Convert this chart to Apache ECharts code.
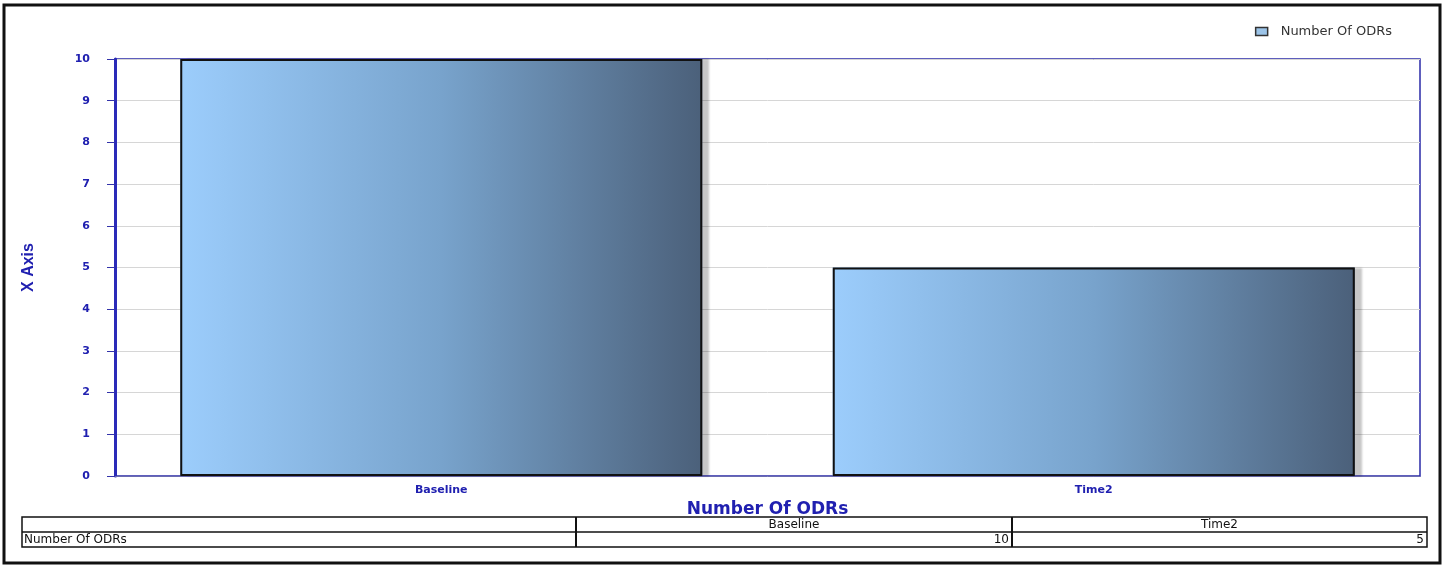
<!DOCTYPE html>
<html>
<head>
<meta charset="utf-8">
<title>Number Of ODRs</title>
<script src="https://cdn.jsdelivr.net/npm/echarts@6/dist/echarts.min.js"></script>
<style>
  html, body { margin: 0; padding: 0; background: #fff; }
  #chart { width: 1445px; height: 566px; }
</style>
</head>
<body>
<div id="chart"></div>
<script>
// 数据
const categories = ['Baseline', 'Time2']
const odrValues = [10, 5]
const seriesName = 'Number Of ODRs'
const yTicks = { min: 0, max: 10, interval: 1 }

const blue = '#2020b0'
const font = 'DejaVu Sans'

// 数据表 (图表下方)
const table = { left: 22, right: 1427, top: 517, rowH: 15, cols: [22, 576, 1012, 1427] }

function buildTable() {
  const els = []
  const bottom = table.top + table.rowH * 2
  els.push({ type: 'rect', shape: { x: table.left, y: table.top, width: table.right - table.left, height: bottom - table.top },
    style: { fill: '#fff', stroke: '#111', lineWidth: 1.5 } })
  els.push({ type: 'line', shape: { x1: table.left, y1: table.top + table.rowH, x2: table.right, y2: table.top + table.rowH },
    style: { stroke: '#111', lineWidth: 1.5 } })
  for (let i = 1; i < table.cols.length - 1; i++) {
    els.push({ type: 'line', shape: { x1: table.cols[i], y1: table.top, x2: table.cols[i], y2: bottom },
      style: { stroke: '#111', lineWidth: 2 } })
  }
  // 表头
  categories.forEach((c, i) => {
    els.push({ type: 'text', x: (table.cols[i + 1] + table.cols[i + 2]) / 2, y: table.top + table.rowH / 2,
      style: { text: c, fill: '#111', font: '12px ' + font, align: 'center', verticalAlign: 'middle' } })
  })
  // 数据行
  els.push({ type: 'text', x: table.left + 2, y: table.top + table.rowH * 1.5,
    style: { text: seriesName, fill: '#111', font: '12px ' + font, align: 'left', verticalAlign: 'middle' } })
  odrValues.forEach((v, i) => {
    els.push({ type: 'text', x: table.cols[i + 2] - 3, y: table.top + table.rowH * 1.5,
      style: { text: String(v), fill: '#111', font: '12px ' + font, align: 'right', verticalAlign: 'middle' } })
  })
  return els
}

const chart = echarts.init(document.getElementById('chart'))

const option = {
  backgroundColor: '#fff',
  animation: false,
  legend: {
    data: [{ name: seriesName, itemStyle: { color: '#9cc4e8', borderColor: '#333', borderWidth: 1.5 } }],
    right: 48,
    top: 20,
    itemWidth: 12,
    itemHeight: 8,
    itemGap: 10,
    icon: 'rect',
    textStyle: { color: '#333', fontSize: 13, fontFamily: font, padding: [0, 0, 0, 8] }
  },
  grid: {
    left: 115,
    right: 25,
    top: 59,
    bottom: 90,
    show: true,
    borderColor: '#2a2aa8',
    borderWidth: 1.5,
    backgroundColor: '#fff'
  },
  xAxis: {
    type: 'category',
    data: categories,
    name: seriesName,
    nameLocation: 'middle',
    nameGap: 23,
    nameTextStyle: { color: blue, fontSize: 17, fontWeight: 'bold', fontFamily: font },
    axisLine: { lineStyle: { color: '#6a6ab0', width: 1 } },
    axisTick: { alignWithLabel: true, length: 6, lineStyle: { color: '#4444aa' } },
    axisLabel: { color: blue, fontSize: 11, fontWeight: 'bold', fontFamily: font, margin: 9 },
    splitLine: { show: false }
  },
  yAxis: {
    type: 'value',
    min: yTicks.min,
    max: yTicks.max,
    interval: yTicks.interval,
    name: 'X Axis',
    nameLocation: 'middle',
    nameGap: 78,
    nameRotate: 90,
    nameTextStyle: { color: blue, fontSize: 16, fontWeight: 'bold', fontFamily: 'Liberation Sans' },
    axisLine: { show: true, lineStyle: { color: '#2a2ab8', width: 3 } },
    axisTick: { show: true, length: 8, lineStyle: { color: '#3333aa' } },
    axisLabel: { color: blue, fontSize: 11, fontWeight: 'bold', fontFamily: font, margin: 25 },
    splitLine: { lineStyle: { color: '#d6d6d6' } }
  },
  series: [
    {
      // 渐变填充 + 右侧阴影
      name: seriesName,
      type: 'bar',
      data: odrValues,
      barWidth: '80%',
      itemStyle: {
        color: new echarts.graphic.LinearGradient(0, 0, 1, 0, [
          { offset: 0, color: '#9ccdfc' },
          { offset: 0.5, color: '#78a3cc' },
          { offset: 1, color: '#4b607a' }
        ]),
        shadowColor: 'rgba(0,0,0,0.22)',
        shadowOffsetX: 7,
        shadowOffsetY: 0,
        shadowBlur: 2
      }
    },
    {
      // 黑色边框 (叠加在上面，不带阴影)
      name: seriesName + ' border',
      type: 'bar',
      data: odrValues,
      barWidth: '80%',
      barGap: '-100%',
      silent: true,
      itemStyle: { color: 'transparent', borderColor: '#111', borderWidth: 2 }
    }
  ],
  graphic: [
    // 外边框
    { type: 'rect', shape: { x: 4, y: 5, width: 1436, height: 558 }, style: { fill: 'none', stroke: '#111', lineWidth: 3 }, z: 100 },
    ...buildTable()
  ]
}

chart.setOption(option)
</script>
</body>
</html>
